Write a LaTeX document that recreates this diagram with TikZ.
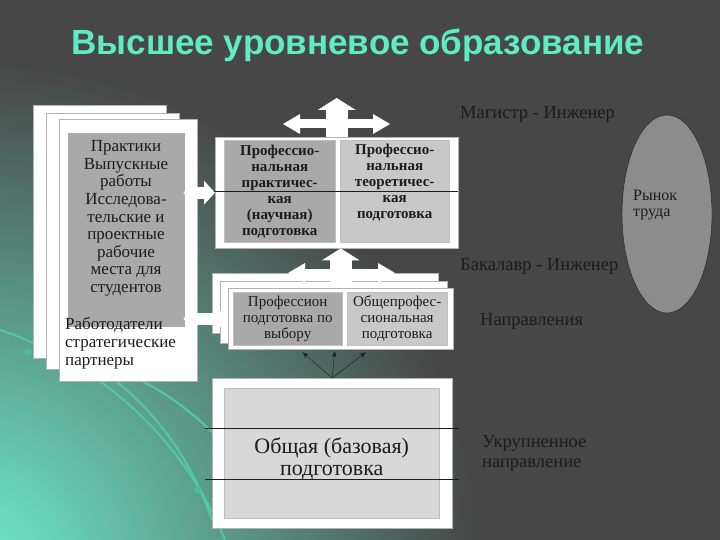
\documentclass[tikz,border=0pt]{standalone}
\usepackage{fontspec}
\setmainfont{Liberation Serif}
\newfontfamily\titlefont{Liberation Sans}
\usetikzlibrary{arrows.meta,shapes.geometric}
\definecolor{slide}{HTML}{474747}
\definecolor{mint}{HTML}{5FEBC4}
\definecolor{darkcell}{HTML}{A9A9A9}
\definecolor{lightcell}{HTML}{C8C8C8}
\definecolor{basecell}{HTML}{D8D8D8}
\definecolor{marketfill}{HTML}{8C8C8C}
\definecolor{ink}{HTML}{1C1C1C}
\begin{document}
\begin{tikzpicture}[x=1pt, y=-1pt,
  page/.style={draw=gray!60, fill=white, anchor=north west, inner sep=0pt},
  cell/.style={draw=gray!50, anchor=north west, inner sep=0pt, align=center, text=ink},
  levelname/.style={anchor=west, text=ink, inner sep=0pt, align=left, font=\fontsize{18.5}{20}\selectfont},
  sidearrow/.style={white, line width=12pt, {Triangle[width=24pt,length=11pt,line width=0pt]}-{Triangle[width=24pt,length=11pt,line width=0pt]}},
  spreadarrow/.style={white, line width=9pt, {Triangle[width=20pt,length=17pt,line width=0pt]}-{Triangle[width=20pt,length=17pt,line width=0pt]}},
  uparrow/.style={white, line width=22pt, -{Triangle[width=38pt,length=12pt,line width=0pt]}},
  fanarrow/.style={ink, -{Stealth[length=6pt]}}
]
  \useasboundingbox (0,0) rectangle (720,540);
  \fill[slide] (0,0) rectangle (720,540);
  \begin{scope}
    \clip (0,0) rectangle (720,540);
    \shade[inner color=mint!90!white, outer color=slide] (-25,565) circle (500);
    \draw[mint!85!black, line width=2pt] (0,330) .. controls (90,360) and (180,430) .. (225,540);
    \draw[mint!85!black, line width=2pt] (60,345) .. controls (130,380) and (185,440) .. (212,520);
    \draw[mint!85!black, line width=2pt] (140,380) .. controls (170,395) and (195,415) .. (215,435);
    \fill[mint!80!black] (28,352) circle (4);
    \fill[mint!80!black] (198,490) circle (4);
  \end{scope}

  \node[text=mint, font=\titlefont\bfseries\fontsize{35}{38}\selectfont] (title) at (358,45) {Высшее уровневое образование};

  \node[page, minimum width=133pt, minimum height=253pt] (back) at (33,105) {};
  \node[page, minimum width=133pt, minimum height=256pt] (middle) at (46,113) {};
  \node[page, minimum width=138pt, minimum height=262pt] (front) at (59,119) {};
  \node[cell, fill=darkcell, draw=none, minimum width=117pt, minimum height=194pt] (practice) at (68,133) {};
  \node[anchor=north, align=center, text=ink, font=\fontsize{17}{17.6}\selectfont] (practicetext) at (126,137) {Практики\\Выпускные\\работы\\Исследова-\\тельские и\\проектные\\рабочие\\места для\\студентов};
  \node[anchor=north west, align=left, inner sep=0pt, text=ink, font=\fontsize{17}{18}\selectfont] (employers) at (65,317) {Работодатели\\стратегические\\партнеры};

  \node[page, minimum width=243pt, minimum height=111pt] (master) at (215,137) {};
  \node[cell, fill=darkcell, minimum width=111pt, minimum height=102pt, font=\bfseries\fontsize{15}{16}\selectfont] (masterL) at (224,140) {Профессио-\\нальная\\практичес-\\кая\\(научная)\\подготовка};
  \node[cell, fill=lightcell, minimum width=109pt, minimum height=102pt] (masterR) at (340,140) {};
  \node[anchor=north, align=center, text=ink, font=\bfseries\fontsize{15}{16}\selectfont] (masterRtext) at ([yshift=-1pt]masterR.north) {Профессио-\\нальная\\теоретичес-\\кая\\подготовка};
  \draw[ink] ([xshift=-14pt,yshift=1pt]master.west) -- ([yshift=1pt]master.east);

  \node[page, minimum width=226pt, minimum height=60pt] (bachelor3) at (212,273) {};
  \node[page, minimum width=227pt, minimum height=62pt] (bachelor2) at (220,281) {};
  \node[page, minimum width=225pt, minimum height=61pt] (bachelor) at (228,288) {};
  \node[cell, fill=darkcell, minimum width=109pt, minimum height=53pt, font=\fontsize{15}{16}\selectfont] (bachelorL) at (233,292) {Профессион\\подготовка по\\выбору};
  \node[cell, fill=lightcell, minimum width=100pt, minimum height=53pt, font=\fontsize{15}{16}\selectfont] (bachelorR) at (347,292) {Общепрофес-\\сиональная\\подготовка};

  \node[page, minimum width=240pt, minimum height=150pt] (base) at (212,378) {};
  \node[cell, fill=basecell, minimum width=215pt, minimum height=130pt] (baseIn) at (224,388) {};
  \draw[ink] ([xshift=-7pt,yshift=-50pt]base.north west) -- ([xshift=7pt,yshift=-50pt]base.north east);
  \draw[ink] ([xshift=-7pt,yshift=-101pt]base.north west) -- ([xshift=7pt,yshift=-101pt]base.north east);
  \node[align=center, text=ink, font=\fontsize{22}{22}\selectfont] (basetext) at ([yshift=-6pt]baseIn.center) {Общая (базовая)\\подготовка};

  \coordinate (spreadL) at (283,124);
  \coordinate (spreadR) at (390,124);
  \draw[spreadarrow] (spreadL) -- (spreadR);
  \draw[uparrow] (master.north) -- ++(0,-39);
  \coordinate (stepL) at (288,273);
  \coordinate (stepR) at (395,273);
  \draw[spreadarrow] (stepL) -- (stepR);
  \draw[uparrow] (bachelor.north) -- (bachelor.north |- master.south);
  \draw[sidearrow] ([xshift=-14pt]front.east |- master.west) -- (master.west);
  \draw[sidearrow] ([xshift=-14pt]front.east |- bachelor.west) -- (bachelor.west);

  \draw[fanarrow] (base.north) -- ([xshift=-38pt,yshift=-3pt]bachelor.south);
  \draw[fanarrow] (base.north) -- ([xshift=-6pt,yshift=-2pt]bachelor.south);
  \draw[fanarrow] (base.north) -- ([xshift=25pt,yshift=-3pt]bachelor.south);

  \node[levelname] (mastername) at (460,114) {Магистр - Инженер};
  \node[levelname] (bachelorname) at (460,266) {Бакалавр - Инженер};
  \node[levelname] (fields) at (480,321) {Направления};
  \node[levelname, font=\fontsize{18.5}{20}\selectfont] (groups) at (482,453) {Укрупненное\\направление};

  \node[ellipse, draw=ink, fill=marketfill, minimum width=90pt, minimum height=198pt, inner sep=0pt] (market) at (667,214) {};
  \node[anchor=west, align=left, inner sep=0pt, text=ink, font=\fontsize{16}{16}\selectfont] (markettext) at ([xshift=-34pt,yshift=9pt]market.center) {Рынок\\труда};
\end{tikzpicture}
\end{document}
